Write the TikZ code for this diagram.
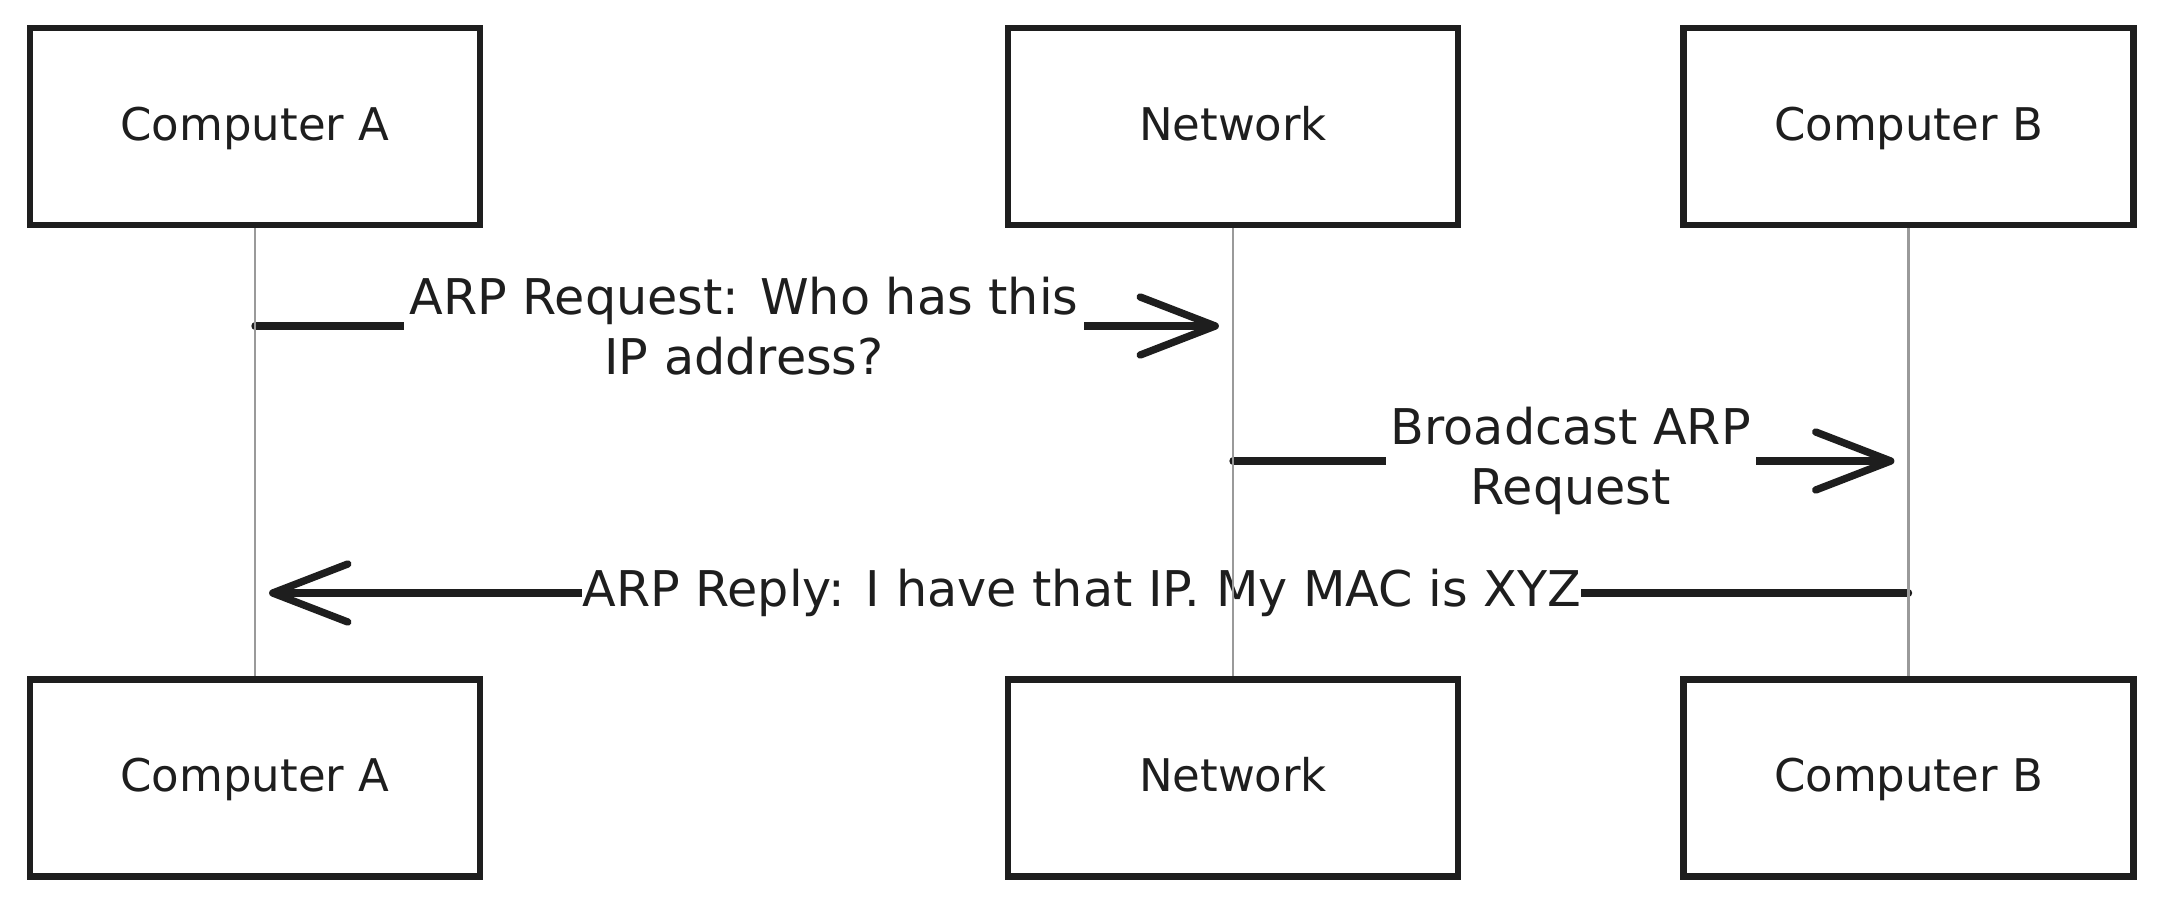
\documentclass[tikz,border=0pt]{standalone}
\usepackage{fontspec}
\setmainfont{DejaVu Sans}
\usetikzlibrary{arrows.meta,positioning,calc}

\definecolor{ink}{HTML}{1E1E1E}
\definecolor{lifegray}{HTML}{9A9A9A}

\tikzset{
    actor/.style={draw=ink, line width=1.8pt, fill=white, text=ink,
        minimum width=4.5cm, minimum height=1.97cm,
        text height=1em, text depth=0.22em,
        font=\fontsize{12.8}{17}\selectfont},
    msg/.style={draw=ink, line width=2.1pt, line cap=round,
        -{Straight Barb[length=7.5mm, width=5.8mm, line width=2.1pt, round]}},
    msglabel/.style={fill=white, text=ink, inner sep=1.5pt, align=center,
        font=\fontsize{14}{17}\selectfont},
    lifeline/.style={draw=lifegray, line width=0.7pt}
}

\begin{document}
\begin{tikzpicture}[x=0.01cm, y=-0.01cm]
    \useasboundingbox (0,0) rectangle (2163,906);

    % Participants, top and bottom
    \foreach \id/\x/\name in {A/255/Computer A, N/1233/Network, B/1908.5/Computer B} {
        \node[actor] (top\id) at (\x, 126.5) {\name};
        \node[actor] (bot\id) at (\x, 778) {\name};
    }

    % Messages
    \draw[msg, shorten >=4pt] (topA.south |- 0,326) -- (topN.south |- 0,326)
        node[midway, msglabel] {ARP Request: Who has this\\IP address?};
    \draw[msg, shorten >=4pt] (topN.south |- 0,461) -- (topB.south |- 0,461)
        node[midway, msglabel] {Broadcast ARP\\Request};
    \draw[msg, shorten >=4pt] (topB.south |- 0,593) -- (topA.south |- 0,593)
        node[midway, msglabel, inner sep=0pt] {ARP Reply: I have that IP. My MAC is XYZ};

    % Lifelines
    \foreach \id in {A,N,B} {
        \draw[lifeline] (top\id.south) -- (bot\id.north);
    }
\end{tikzpicture}
\end{document}
